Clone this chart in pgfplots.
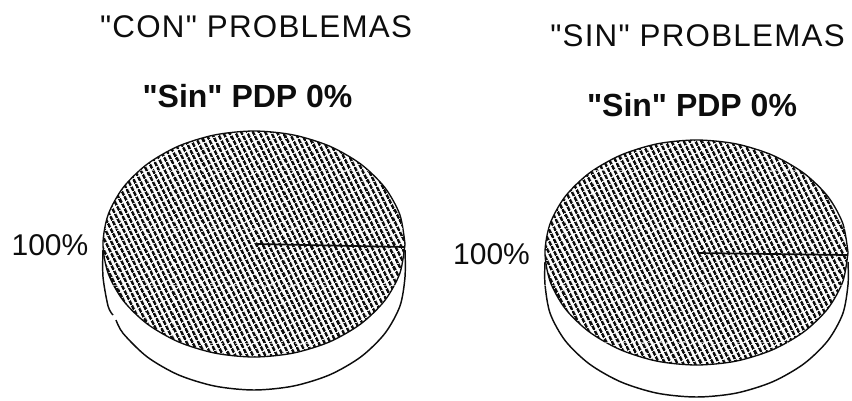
\documentclass[border=0pt]{standalone}
\usepackage{fontspec}
\setmainfont{Liberation Sans}[Ligatures=TeXOff]
\usepackage{pgfplots}
\pgfplotsset{compat=1.18}
\usetikzlibrary{patterns.meta}
\pgfplotstableread{
x y
405 244
399.9 214.8
384.8 187.5
360.8 164.1
329.5 146.1
293.1 134.9
254 131
214.9 134.9
178.5 146.1
147.2 164.1
123.2 187.5
108.1 214.8
103 244
108.1 273.2
123.2 300.5
147.2 323.9
178.5 341.9
214.9 353.1
254 357
293.1 353.1
329.5 341.9
360.8 323.9
384.8 300.5
399.9 273.2
405 244
}\pieA
\pgfplotstableread{
x y
848 252.5
842.8 223.4
827.7 196.3
803.6 173
772.3 155.1
735.7 143.8
696.5 140
657.3 143.8
620.8 155.1
589.4 173
565.3 196.3
550.2 223.4
545 252.5
550.2 281.6
565.3 308.8
589.4 332
620.8 349.9
657.3 361.2
696.5 365
735.7 361.2
772.3 349.9
803.6 332
827.7 308.8
842.8 281.6
848 252.5
}\pieB
\definecolor{ink}{gray}{0.05}
\tikzset{hatch/.style={pattern={Lines[angle=-63,distance=3.85pt,line width=2.1pt]},pattern color=ink},
 scan/.style={white,opacity=.55,line width=.7pt,dash pattern=on 4pt off 2.5pt}}
\begin{document}
\begin{tikzpicture}
\begin{axis}[hide axis,scale only axis,width=639pt,height=300pt,
  xmin=0,xmax=852,ymin=0,ymax=400,y dir=reverse,clip=false]
\path[draw=none] (axis cs:0,0) rectangle (axis cs:852,400);
% walls
\addplot[ink,line width=1.1pt,smooth] coordinates {(103,250)(103,277)(108.1,306.2)(113,315)};
\addplot[ink,line width=1.1pt,smooth] coordinates {(116,320)(123.2,333.5)(147.2,356.9)(178.5,374.9)(214.9,386.1)(254,390)(293.1,386.1)(329.5,374.9)(360.8,356.9)(384.8,333.5)(399.9,306.2)(405,277)(405,250)};
\addplot[ink,line width=1.1pt,smooth] coordinates {(545,262)(545,284.5)(550.2,313.6)(565.3,340.8)(589.4,364)(620.8,381.9)(657.3,393.2)(696.5,397)(735.7,393.2)(772.3,381.9)(803.6,364)(827.7,340.8)(842.8,313.6)(848,284.5)(848,262)};
% tops
\addplot[hatch,draw=ink,line width=1pt,smooth] table[x=x,y=y]{\pieA};
\addplot[hatch,draw=ink,line width=1pt,smooth] table[x=x,y=y]{\pieB};
% scan gaps across the hatching
\addplot[scan] coordinates {(140,170)(368,170)};
\addplot[scan] coordinates {(105,228)(403,228)};
\addplot[scan] coordinates {(113,285)(395,285)};
\addplot[scan] coordinates {(200,343)(317,343)};
\addplot[scan] coordinates {(593,170)(800,170)};
\addplot[scan] coordinates {(549,228)(845,228)};
\addplot[scan] coordinates {(543,285)(842,285)};
\addplot[scan] coordinates {(605,342)(788,342)};
% slice edges
\addplot[ink,line width=1.3pt] coordinates {(256,244)(405,247)};
\addplot[ink,line width=1.3pt] coordinates {(697,253)(848,255)};
% text
\node[ink,inner sep=0pt,font=\fontsize{23.5pt}{26pt}\selectfont\addfontfeature{LetterSpace=4}] at (axis cs:256,27) {"CON" PROBLEMAS};
\node[ink,inner sep=0pt,font=\fontsize{23.5pt}{26pt}\selectfont\addfontfeature{LetterSpace=4}] at (axis cs:697.5,36) {"SIN" PROBLEMAS};
\node[ink,inner sep=0pt,font=\fontsize{24pt}{26pt}\selectfont\bfseries] at (axis cs:247.5,96) {"Sin" PDP 0\%};
\node[ink,inner sep=0pt,font=\fontsize{24pt}{26pt}\selectfont\bfseries] at (axis cs:692,105) {"Sin" PDP 0\%};
\node[ink,inner sep=0pt,font=\fontsize{22.5pt}{24pt}\selectfont] at (axis cs:50,245) {100\%};
\node[ink,inner sep=0pt,font=\fontsize{22.5pt}{24pt}\selectfont] at (axis cs:491.5,254) {100\%};
\end{axis}
\end{tikzpicture}
\end{document}
